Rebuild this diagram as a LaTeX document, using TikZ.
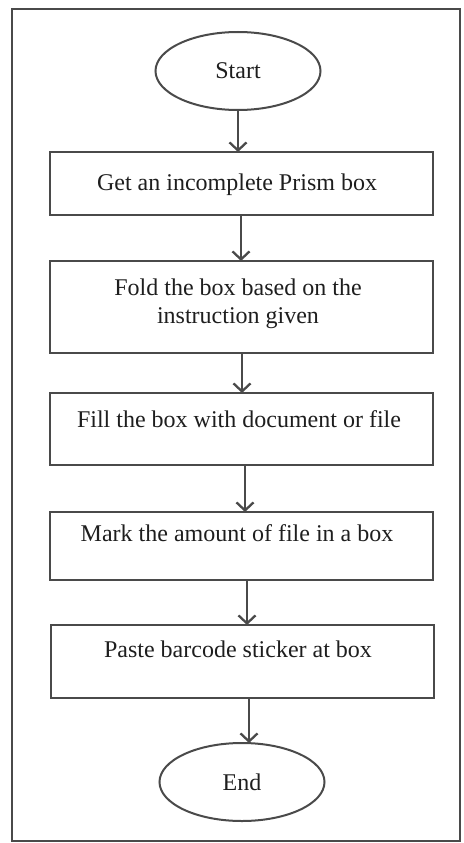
\documentclass[tikz,border=0pt]{standalone}
\usepackage{fontspec}
\setmainfont{Liberation Serif}
\usetikzlibrary{shapes.geometric,arrows.meta}
\definecolor{ink}{HTML}{4A4A4A}
\definecolor{txt}{HTML}{1E1E1E}
\begin{document}
\begin{tikzpicture}[x=1pt,y=-1pt,
  every node/.style={inner sep=0pt,outer sep=0pt},
  term/.style={ellipse,draw=ink,line width=2pt,minimum width=165pt,minimum height=78pt,
    text=txt,font=\fontsize{24}{28}\selectfont},
  stepbox/.style={rectangle,draw=ink,line width=2.8pt,minimum width=383pt},
  steptext/.style={text=txt,align=center,font=\fontsize{24}{28}\selectfont},
  flow/.style={draw=ink,line width=2.3pt,-{Straight Barb[length=8pt,width=17pt]}}]
  \useasboundingbox (0,0) rectangle (463,843);
  % outer frame
  \draw[ink,line width=2.5pt] (12,9) rectangle (460,841);

  % terminals
  \node[term] (start) at (238,71) {Start};
  \node[term] (end) at (242,782) {End};

  % process boxes
  \node[stepbox,minimum height=63pt] (b1) at (241.5,183.5) {};
  \node[stepbox,minimum height=92pt] (b2) at (241.5,307) {};
  \node[stepbox,minimum height=72pt] (b3) at (241.5,429) {};
  \node[stepbox,minimum height=68pt] (b4) at (241.5,546) {};
  \node[stepbox,minimum height=73pt] (b5) at (242.5,661.5) {};

  % box captions
  \node[steptext,anchor=base] (t1) at (237,190) {Get an incomplete Prism box};
  \node[steptext,anchor=north] (t2) at (238,278.5) {Fold the box based on the\\instruction given};
  \node[steptext,anchor=base] (t3) at (239,427) {Fill the box with document or file};
  \node[steptext,anchor=base] (t4) at (237,541) {Mark the amount of file in a box};
  \node[steptext,anchor=base] (t5) at (238,657) {Paste barcode sticker at box};

  % connector columns
  \coordinate (c1) at (241,0);
  \coordinate (c2) at (242,0);
  \coordinate (c3) at (245,0);
  \coordinate (c4) at (247,0);
  \coordinate (c5) at (249,0);

  % connectors
  \draw[flow] (start.south) -- (start.south |- b1.north);
  \draw[flow] (c1 |- b1.south) -- (c1 |- b2.north);
  \draw[flow] (c2 |- b2.south) -- (c2 |- b3.north);
  \draw[flow] (c3 |- b3.south) -- (c3 |- b4.north);
  \draw[flow] (c4 |- b4.south) -- (c4 |- b5.north);
  \draw[flow] (c5 |- b5.south) -- (c5 |- end.north);
\end{tikzpicture}
\end{document}
